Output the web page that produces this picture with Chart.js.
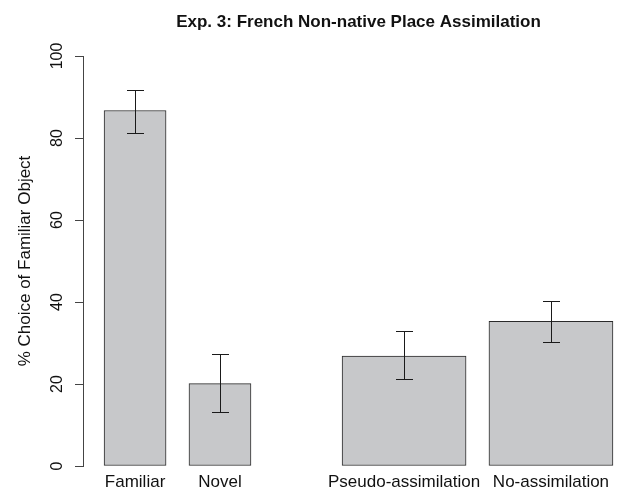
<!DOCTYPE html>
<html><head><meta charset="utf-8">
<script src="https://cdn.jsdelivr.net/npm/chart.js@4"></script>
<style>html,body{margin:0;padding:0;background:#fff}#wrap{width:622px;height:496px}</style>
</head><body><div id="wrap"><canvas id="c" width="622" height="496"></canvas></div>
<script>
// ---- data ----
const categories = ['Familiar', 'Novel', 'Pseudo-assimilation', 'No-assimilation'];
const means   = [86.7, 20.1, 26.8, 35.3];
const errLow  = [81.3, 13.1, 21.1, 30.3];
const errHigh = [91.8, 27.2, 33.0, 40.3];
const yTicks  = [0, 20, 40, 60, 80, 100];
const chartTitle = 'Exp. 3: French Non-native Place Assimilation';
const yTitle = '% Choice of Familiar Object';

// ---- layout (R barplot-like: widths and spaces in axis units) ----
const barWidths = [0.5, 0.5, 1, 1];
const barSpaces = [0.17, 0.185, 0.735, 0.185];
const xMax = 4.34;
const FONT = '"Liberation Sans", Arial, Helvetica, sans-serif';

const centers = [], lefts = [], rights = [];
let pos = 0;
for (let i = 0; i < categories.length; i++) {
  pos += barSpaces[i];
  lefts.push(pos);
  centers.push(pos + barWidths[i] / 2);
  pos += barWidths[i];
  rights.push(pos);
}

const narrowData = [], wideData = [];
categories.forEach((c, i) => {
  const pt = { x: centers[i], y: means[i] };
  if (barWidths[i] < 1) narrowData.push(pt); else wideData.push(pt);
});

const barStyle = {
  backgroundColor: '#c7c8ca',
  borderColor: '#2a2a2a',
  borderWidth: 1,
  borderSkipped: false,
  grouped: false
};

const overlay = {
  id: 'overlay',
  afterDatasetsDraw(chart) {
    const ctx = chart.ctx, xs = chart.scales.x, ys = chart.scales.y;
    ctx.save();
    ctx.strokeStyle = '#1a1a1a';
    ctx.lineWidth = 1;
    const cap = 8.5;
    for (let i = 0; i < categories.length; i++) {
      const x = Math.round(xs.getPixelForValue(centers[i])) + 0.5;
      const y1 = Math.round(ys.getPixelForValue(errLow[i])) + 0.5;
      const y2 = Math.round(ys.getPixelForValue(errHigh[i])) + 0.5;
      ctx.beginPath();
      ctx.moveTo(x, y1); ctx.lineTo(x, y2);
      ctx.moveTo(x - cap, y1); ctx.lineTo(x + cap, y1);
      ctx.moveTo(x - cap, y2); ctx.lineTo(x + cap, y2);
      ctx.stroke();
    }
    ctx.restore();
  },
  afterDraw(chart) {
    const ctx = chart.ctx, xs = chart.scales.x;
    const span = rights[rights.length - 1] - lefts[0];
    const usrL = lefts[0] - 0.04 * span, usrR = rights[rights.length - 1] + 0.04 * span;
    const cx = xs.getPixelForValue((usrL + usrR) / 2);
    ctx.save();
    ctx.fillStyle = '#111';
    ctx.font = 'bold 17px ' + FONT;
    ctx.textAlign = 'center';
    ctx.textBaseline = 'alphabetic';
    ctx.fillText(chartTitle, cx, 27);
    ctx.restore();
  }
};

new Chart(document.getElementById('c'), {
  type: 'bar',
  data: {
    datasets: [
      Object.assign({ data: narrowData, barThickness: 62 }, barStyle),
      Object.assign({ data: wideData, barThickness: 124 }, barStyle)
    ]
  },
  options: {
    responsive: false,
    animation: false,
    devicePixelRatio: 1,
    layout: { padding: { top: 56, right: 1, bottom: 0, left: 0 } },
    plugins: { legend: { display: false }, tooltip: { enabled: false }, title: { display: false } },
    scales: {
      x: {
        type: 'linear', min: 0, max: xMax, offset: false,
        afterBuildTicks(s) { s.ticks = centers.map(v => ({ value: v })); },
        afterFit(s) { s.height = 30; },
        grid: { display: false, drawTicks: false, offset: false },
        border: { display: false },
        ticks: {
          autoSkip: false, maxRotation: 0, minRotation: 0, padding: 6,
          color: '#111', font: { family: FONT, size: 17 },
          callback: (v, i) => categories[i]
        }
      },
      y: {
        min: 0, max: 100,
        afterBuildTicks(s) { s.ticks = yTicks.map(v => ({ value: v })); },
        afterFit(s) { s.width = 83; },
        grid: { drawOnChartArea: false, drawTicks: true, tickLength: 8, color: '#444', lineWidth: 1 },
        border: { display: true, color: '#444', width: 1 },
        ticks: {
          minRotation: 90, maxRotation: 90, crossAlign: 'center', padding: 4,
          color: '#111', font: { family: FONT, size: 16 },
          callback: v => String(v)
        },
        title: {
          display: true, text: yTitle, color: '#111',
          font: { family: FONT, size: 17 }, padding: { top: 15, bottom: 0 }
        }
      }
    }
  },
  plugins: [overlay]
});
</script>
</body></html>
